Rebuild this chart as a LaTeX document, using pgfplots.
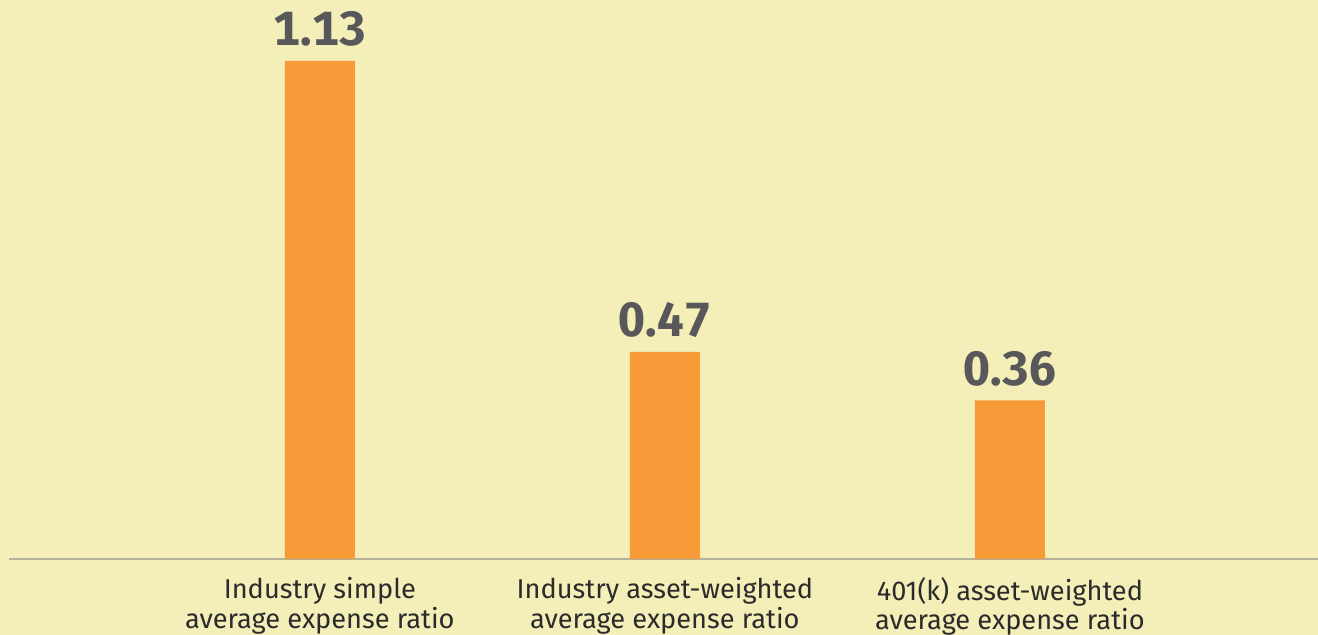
\documentclass[border=0pt]{standalone}
\usepackage{fontspec}
\setmainfont{Fira Sans}
\usepackage{xcolor}
\usepackage{pgfplots}
\pgfplotsset{compat=1.18}

\definecolor{bgyellow}{HTML}{F4EEB9}
\definecolor{barorange}{HTML}{F79B38}
\definecolor{numgray}{HTML}{58585A}
\definecolor{axisgray}{HTML}{B4B29A}
\definecolor{labeltext}{HTML}{2B2B2B}

\begin{document}
\begin{tikzpicture}
\fill[bgyellow] (-4.5pt,-38pt) rectangle (654.5pt,279.5pt);
\path[use as bounding box] (-4.5pt,-38pt) rectangle (654.5pt,279.5pt);
\begin{axis}[
  at={(0,0)}, anchor=south west,
  scale only axis,
  width=654.5pt, height=279.5pt,
  xmin=-0.901, xmax=2.893,
  ymin=0, ymax=1.268,
  axis y line=none,
  axis x line=bottom,
  x axis line style={-, axisgray, line width=1pt},
  xtick={0,1,2},
  xticklabels={{Industry simple\\average expense ratio},
               {Industry asset-weighted\\average expense ratio},
               {401(k) asset-weighted\\average expense ratio}},
  major tick length=0pt,
  xticklabel style={align=center, font=\fontsize{13.6}{14.8}\selectfont,
                    text=labeltext, inner sep=0pt, yshift=-9pt},
  ybar, bar width=35pt,
  nodes near coords,
  /pgf/number format/assume math mode=true,
  /pgf/number format/.cd, fixed, fixed zerofill, precision=2, /pgfplots/.cd,
  every node near coord/.append style={
    font=\fontsize{24}{24}\selectfont\bfseries\addfontfeatures{Numbers=Monospaced},
    text=numgray, inner sep=0pt, anchor=south, yshift=7pt},
]
\addplot[fill=barorange, draw=none] coordinates {(0,1.13) (1,0.47) (2,0.36)};
\end{axis}
\end{tikzpicture}
\end{document}
